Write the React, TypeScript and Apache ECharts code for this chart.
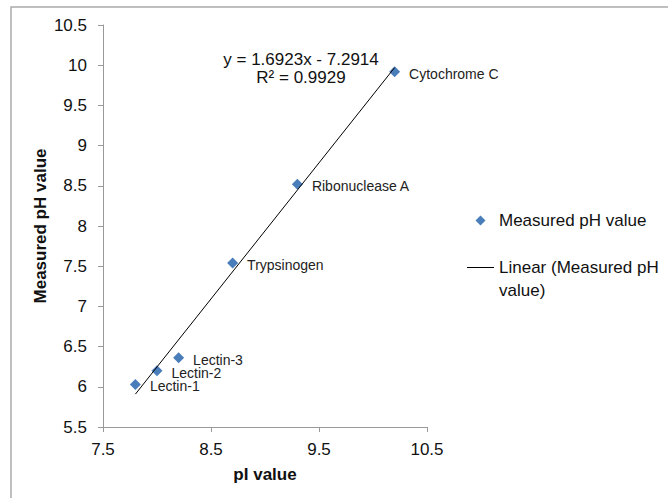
import { useEffect, useRef } from "react";
import * as echarts from "echarts";

const proteins = ["Lectin-1", "Lectin-2", "Lectin-3", "Trypsinogen", "Ribonuclease A", "Cytochrome C"];
const pIValues = [7.8, 8.0, 8.2, 8.7, 9.3, 10.2];
const measuredPH = [6.03, 6.2, 6.36, 7.54, 8.52, 9.92];
const xTicks = [7.5, 8.5, 9.5, 10.5];
const slope = 1.6923;
const intercept = -7.2914;
const rSquared = 0.9929;

const FONT = "'Liberation Sans', Arial, sans-serif";
const TEXT = "#111";
const AXIS = "#999";

export default function App() {
  const ref = useRef<HTMLDivElement>(null);
  useEffect(() => {
    if (!ref.current) return;
    const chart = echarts.init(ref.current, undefined, { renderer: "svg" });
    const xMin = Math.min(...pIValues);
    const xMax = Math.max(...pIValues);
    const trend = [
      [xMin, slope * xMin + intercept],
      [xMax, slope * xMax + intercept],
    ];
    const scatterData = pIValues.map((x, i) => [x, measuredPH[i]]);
    chart.setOption({
      animation: false,
      textStyle: { fontFamily: FONT },
      grid: { left: 103, top: 25, right: 241, bottom: 71, containLabel: false },
      xAxis: {
        type: "value",
        min: 7.5,
        max: 10.5,
        name: "pI value",
        nameLocation: "middle",
        nameGap: 39,
        nameTextStyle: { fontSize: 17, fontWeight: "bold", color: TEXT, fontFamily: FONT },
        axisLine: { show: true, lineStyle: { color: AXIS, width: 1 } },
        axisTick: { show: true, length: 5, lineStyle: { color: AXIS }, customValues: xTicks },
        axisLabel: { fontSize: 17, color: TEXT, margin: 14, fontFamily: FONT, customValues: xTicks },
        splitLine: { show: false },
      },
      yAxis: {
        type: "value",
        min: 5.5,
        max: 10.5,
        interval: 0.5,
        name: "Measured pH value",
        nameLocation: "middle",
        nameGap: 54,
        nameTextStyle: { fontSize: 17, fontWeight: "bold", color: TEXT, fontFamily: FONT },
        axisLine: { show: true, lineStyle: { color: AXIS, width: 1 } },
        axisTick: { show: true, length: 5, lineStyle: { color: AXIS } },
        axisLabel: { fontSize: 17, color: TEXT, margin: 16, fontFamily: FONT },
        splitLine: { show: false },
      },
      legend: {
        orient: "vertical",
        left: 467,
        top: 209,
        padding: 0,
        itemWidth: 27,
        itemHeight: 10,
        itemGap: 1,
        textStyle: { fontSize: 17, lineHeight: 23, color: TEXT, fontFamily: FONT },
        data: [
          { name: "Measured pH value", icon: "path://M0,0M27,10M13.5,0L18.5,5L13.5,10L8.5,5Z" },
          { name: "Linear (Measured pH value)", icon: "path://M0,0H27V1H0Z" },
        ],
        formatter: (name: string) =>
          name === "Linear (Measured pH value)" ? "\nLinear (Measured pH\nvalue)" : name,
      },
      series: [
        {
          name: "Measured pH value",
          type: "scatter",
          symbol: "diamond",
          symbolSize: 11,
          itemStyle: { color: "#4a7ebb", opacity: 1 },
          data: scatterData,
          z: 2,
          label: {
            show: true,
            position: "right",
            distance: 9,
            offset: [0, 2],
            fontSize: 14,
            lineHeight: 13,
            color: "#222",
            fontFamily: FONT,
            formatter: (p: any) => proteins[p.dataIndex],
          },
        },
        {
          name: "Linear (Measured pH value)",
          type: "line",
          data: trend,
          symbol: "none",
          showSymbol: false,
          lineStyle: { color: "#000", width: 1 },
          itemStyle: { color: "#000" },
          z: 3,
        },
      ],
      graphic: [
        {
          type: "rect",
          silent: true,
          z: -10,
          shape: { x: 11, y: 7, width: 900, height: 900 },
          style: { fill: "none", stroke: "#aaa", lineWidth: 1.5 },
        },
        {
          type: "text",
          x: 301,
          y: 68,
          silent: true,
          style: {
            text: `y = ${slope}x - ${Math.abs(intercept)}\nR² = ${rSquared}`,
            align: "center",
            verticalAlign: "middle",
            fontSize: 17,
            lineHeight: 18,
            fontFamily: FONT,
            fill: TEXT,
          },
        },
      ],
    });
    return () => chart.dispose();
  }, []);
  return (
    <div
      ref={ref}
      style={{ position: "fixed", left: 0, top: 0, width: 668, height: 498, background: "#fff" }}
    />
  );
}
